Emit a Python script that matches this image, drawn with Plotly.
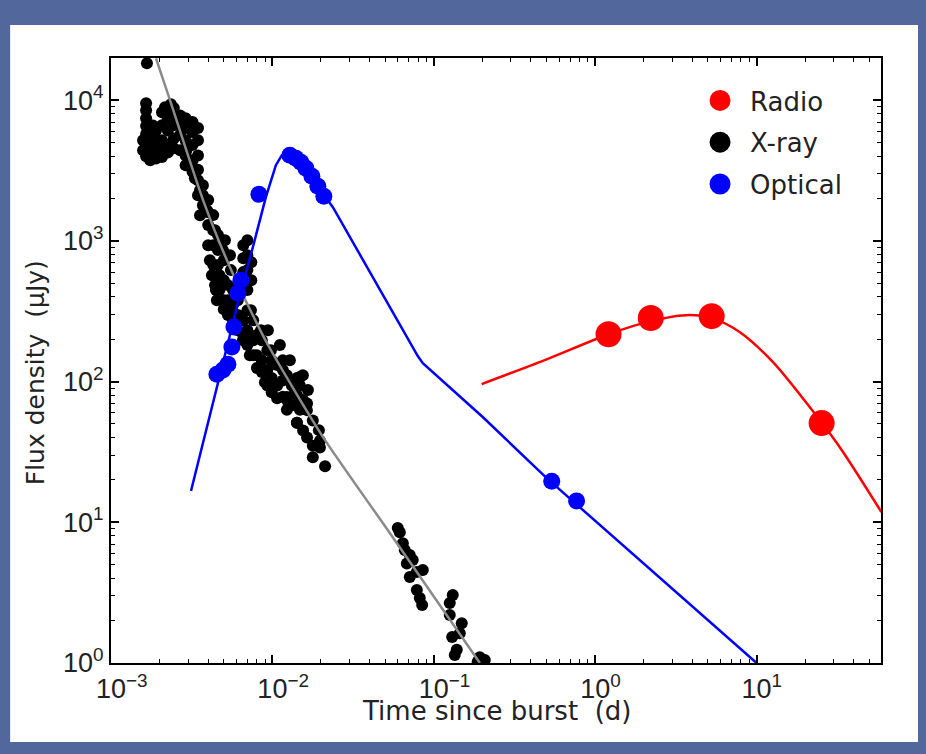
import plotly.graph_objects as go

# ---------------- data ----------------
radio_t = [1.21, 2.21, 5.27, 25.3]
radio_f = [217, 283, 292, 50.7]
radio_model_t = [0.198, 0.487, 1.21, 2.21, 3.85, 5.5, 7.85, 12.6, 20.4, 32.7, 59.4]
radio_model_f = [96, 142, 217, 269, 297, 278, 225, 138, 70.4, 34.3, 11.8]

optical_t = [0.00453, 0.00494, 0.0053, 0.00561, 0.00578, 0.00611, 0.00638, 0.00825,
             0.01283, 0.01398, 0.01502, 0.01613, 0.01757, 0.01913, 0.02084, 0.538, 0.767]
optical_f = [113, 121, 133, 176, 244, 425, 526, 2148,
             4066, 3873, 3627, 3288, 2884, 2449, 2080, 19.6, 14.2]
optical_model_t = [0.00313, 0.0048, 0.00629, 0.00757, 0.00911, 0.01051, 0.01145, 0.01248,
                   0.01439, 0.0237, 0.0741, 0.0796, 0.0855, 0.1256, 0.201, 0.501, 10.0]
optical_model_f = [16.7, 117, 412, 903, 2046, 3453, 4066, 4272,
                   3747, 1737, 176, 152, 135, 91.4, 56, 20.6, 1.0]

xray_model_t = [0.0019, 0.00232, 0.00372, 0.00546, 0.00925, 0.0206, 0.0534, 0.193]
xray_model_f = [19860, 10000, 1949, 651, 188, 40.3, 8.39, 1.0]

xray_t = (
    [0.00167]
    + [0.00165] * 8 + [0.00158] * 2 + [0.00175] * 5 + [0.00182] * 4 + [0.0019] * 4
    + [0.00207] * 5 + [0.00216] + [0.00225] * 5 + [0.00235] + [0.00245] * 5
    + [0.00268] * 4 + [0.0029] * 5 + [0.0032] * 5 + [0.00346] * 6
    + [0.00356] + [0.00371] * 3 + [0.0040] * 4 + [0.0043] * 4 + [0.00441] + [0.00453]
    + [0.0046] * 3 + [0.0047] * 2 + [0.0050] * 4 + [0.00508] + [0.00546] + [0.0053] * 3
    + [0.0057] * 3 + [0.0061] * 3 + [0.0066] * 6 + [0.0070] * 7 + [0.0074] * 2
    + [0.0076] * 3 + [0.0080] * 2 + [0.0086] * 3 + [0.0093] * 3 + [0.0099] * 3
    + [0.0107] * 3 + [0.0116] * 3 + [0.0123] * 3 + [0.0132] * 2 + [0.0142] * 3
    + [0.0148] * 2 + [0.0155] * 2 + [0.0164] * 2 + [0.0178] * 3 + [0.0197] * 2 + [0.0212]
    # band centre and edges
    + [0.00293, 0.00322, 0.00356, 0.00393, 0.00441, 0.00494, 0.00553, 0.00638,
       0.00736, 0.00849, 0.00979, 0.01161, 0.01378, 0.01636, 0.01941]
    + [0.0041, 0.00422, 0.00447, 0.0053, 0.00586, 0.00657, 0.00725, 0.00802, 0.00899]
    + [0.00938, 0.01113, 0.01283, 0.01545, 0.0166, 0.0148, 0.0123, 0.01418, 0.0148]
    + [0.00331]
    # later clusters
    + [0.0598, 0.0616, 0.0643, 0.0661, 0.071, 0.0681, 0.0741, 0.071, 0.0785, 0.0855,
       0.0785, 0.0819, 0.0847]
    + [0.1311, 0.1256, 0.1256, 0.149, 0.1449, 0.13, 0.1388, 0.1349]
    + [0.1927, 0.2069, 0.187]
)
xray_f = (
    [18300]
    + [9500, 8500, 7450, 6550, 5750, 5050, 4400, 4000]
    + [5200, 4415]
    + [6650, 5650, 4800, 4050, 3750]
    + [6600, 5600, 4700, 4000]
    + [6100, 5200, 4400, 3850]
    + [8200, 6650, 5200, 4400, 3950]
    + [8920]
    + [8500, 7450, 6100, 4800, 4250]
    + [9350]
    + [8800, 7800, 6650, 5350, 4550]
    + [7800, 6650, 5650, 4400]
    + [7450, 6350, 5200, 4050, 3450]
    + [7000, 5950, 4800, 3750, 3100]
    + [6350, 5200, 4050, 3200, 2700, 2115]
    + [1524]
    + [2490, 2115, 1795]
    + [1950, 1600, 1295, 933]
    + [1525, 1190, 933, 673]
    + [485]
    + [379]
    + [1100, 860, 673]
    + [571, 447]
    + [730, 526, 379, 327]
    + [1012]
    + [792]
    + [485, 379, 297]
    + [447, 350, 273]
    + [379, 297, 232]
    + [933, 754, 600, 485, 273, 214]
    + [1012, 792, 620, 447, 322, 232, 182]
    + [706, 526]
    + [273, 197, 154]
    + [214, 154]
    + [197, 142, 117]
    + [167, 121, 94]
    + [142, 106, 84]
    + [131, 94, 76]
    + [142, 102, 78]
    + [111, 74, 63]
    + [94, 68]
    + [106, 80, 51]
    + [94, 63]
    + [74, 45]
    + [70, 40]
    + [53, 35, 29]
    + [38, 34]
    + [25]
    + [4415, 3183, 2294, 1654, 1192, 860, 620, 447, 322, 232, 167, 121, 87, 62.7, 45.2]
    + [730, 571, 447, 322, 252, 197, 154, 125, 99]
    + [232, 182, 142, 111, 87, 108, 77.6, 51, 73.9]
    + [2793]
    + [9.1, 8.5, 7.1, 6.35, 5.85, 5.1, 5.4, 4.08, 4.43, 4.58, 3.3, 2.9, 2.58]
    + [3.04, 2.67, 2.19, 1.92, 1.63, 1.53, 1.24, 1.14]
    + [1.10, 1.05, 1.02]
)

x_tickvals = [1e-3, 1e-2, 1e-1, 1e0, 1e1]
x_exps = ["−3", "−2", "−1", "0", "1"]
y_tickvals = [1e0, 1e1, 1e2, 1e3, 1e4]
y_exps = ["0", "1", "2", "3", "4"]

legend_names = ["Radio", "X-ray", "Optical"]
legend_colors = ["#ff0000", "#000000", "#0000ff"]

# x labels: base "10" centred on the tick (invisible copy of exponent on the left)
x_ticktext = ['<span style="color:rgba(0,0,0,0)"><sup>%s</sup></span>10<sup>%s</sup>' % (e, e)
              for e in x_exps]
y_ticktext = ["10<sup>%s</sup>" % e for e in y_exps]

# ---------------- figure ----------------
FONT = "Liberation Sans, Arial, Helvetica, sans-serif"
WIDE = "DejaVu Sans, Liberation Sans, sans-serif"
TXT = "#222222"
SLIDE_BLUE = "#52679c"

fig = go.Figure()

fig.add_trace(go.Scatter(x=xray_t, y=xray_f, mode="markers", showlegend=False,
                         marker=dict(color="black", size=12, line=dict(width=0))))
fig.add_trace(go.Scatter(x=xray_model_t, y=xray_model_f, mode="lines", showlegend=False,
                         line=dict(color="#8a8a8a", width=2.5, shape="spline", smoothing=0.6)))
fig.add_trace(go.Scatter(x=optical_model_t, y=optical_model_f, mode="lines", showlegend=False,
                         line=dict(color="#0000ff", width=2.5)))
fig.add_trace(go.Scatter(x=optical_t, y=optical_f, mode="markers", showlegend=False,
                         marker=dict(color="#0000ff", size=17, line=dict(width=0))))
fig.add_trace(go.Scatter(x=radio_model_t, y=radio_model_f, mode="lines", showlegend=False,
                         line=dict(color="#ff0000", width=2.5, shape="spline", smoothing=0.8)))
fig.add_trace(go.Scatter(x=radio_t, y=radio_f, mode="markers", showlegend=False,
                         marker=dict(color="#ff0000", size=26, line=dict(width=0))))

# legend-only entries (large round symbols as in the reference)
for i, (nm, col) in enumerate(zip(legend_names, legend_colors)):
    fig.add_trace(go.Scatter(x=[None], y=[None], mode="markers", name=nm,
                             legendgroup=nm, legendrank=i + 1,
                             marker=dict(color=col, size=16, line=dict(color=col, width=5))))

axis_common = dict(
    type="log", showgrid=False, zeroline=False,
    showline=True, linecolor="black", linewidth=2, mirror="allticks",
    ticks="inside", ticklen=8, tickwidth=1.5, tickcolor="black",
    tickmode="array",
    tickfont=dict(family=FONT, size=27, color=TXT),
    minor=dict(ticks="inside", ticklen=4, tickwidth=1, tickcolor="black",
               dtick="D1", showgrid=False),
)

fig.update_xaxes(**axis_common, range=[-3, 1.771],
                 tickvals=x_tickvals, ticktext=x_ticktext, ticklabelstandoff=1)
fig.update_yaxes(**axis_common, range=[0, 4.3],
                 tickvals=y_tickvals, ticktext=y_ticktext)

# axis titles
fig.add_annotation(text="Time since burst  (d)", xref="paper", yref="paper",
                   x=0.5, y=-0.080, xanchor="center", yanchor="middle", showarrow=False,
                   font=dict(family=WIDE, size=26, color=TXT))
fig.add_annotation(text="Flux density  (µJy)", xref="paper", yref="paper",
                   x=-0.0987, y=0.479, xanchor="center", yanchor="middle", showarrow=False,
                   textangle=-90, font=dict(family=WIDE, size=25, color=TXT))

# white slide panel behind the chart
fig.add_shape(type="rect", xref="paper", yref="paper",
              x0=-0.131, x1=1.07, y0=-0.1306, y1=1.0545,
              fillcolor="white", line=dict(width=0), layer="below")

fig.update_layout(
    width=918, height=746,
    margin=dict(l=103, r=45, t=50, b=91),
    paper_bgcolor=SLIDE_BLUE,
    plot_bgcolor="white",
    font=dict(family=FONT, color=TXT),
    legend=dict(x=0.752, y=0.9686, xanchor="left", yanchor="top",
                bgcolor="rgba(0,0,0,0)", borderwidth=0,
                font=dict(family=WIDE, size=26, color=TXT),
                tracegroupgap=5, itemsizing="trace", itemwidth=50),
)

fig.write_html("out.html",
               post_script="document.body.style.backgroundColor='%s';" % SLIDE_BLUE)
